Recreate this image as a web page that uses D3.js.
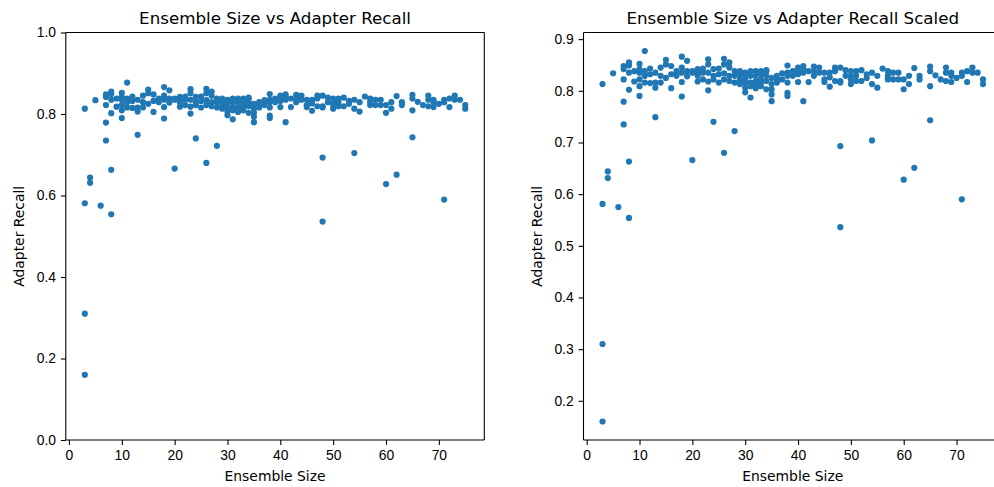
<!DOCTYPE html>
<html>
<head>
<meta charset="utf-8">
<script src="https://cdn.jsdelivr.net/npm/d3@7"></script>
<style>
  html, body { margin: 0; padding: 0; background: #fff; }
  svg { display: block; font-family: "DejaVu Sans", sans-serif; }
  .tick text { font-size: 13.9px; fill: #000; }
  .tick line { stroke: #000; stroke-width: 1.1px; }
  .domain { display: none; }
</style>
</head>
<body>
<svg id="chart" width="994" height="487"></svg>
<script>
// Ensemble sizes and the adapter recall measured for each run at that size
const ensembleSizes = [3, 4, 5, 6, 7, 8, 9, 10, 11, 12, 13, 14, 15, 16, 17, 18, 19, 20,
  21, 22, 23, 24, 25, 26, 27, 28, 29, 30, 31, 32, 33, 34, 35, 36, 37, 38, 39, 40,
  41, 42, 43, 44, 45, 46, 47, 48, 49, 50, 51, 52, 53, 54, 55, 56, 57, 58, 59, 60,
  61, 62, 63, 65, 66, 67, 68, 69, 70, 71, 72, 73, 74, 75];

const recallBySize = [
  [0.813, 0.581, 0.310, 0.160],
  [0.644, 0.631],
  [0.834],
  [0.575],
  [0.848, 0.842, 0.822, 0.779, 0.735],
  [0.855, 0.849, 0.835, 0.802, 0.663, 0.554],
  [0.818, 0.838],
  [0.852, 0.842, 0.835, 0.822, 0.809, 0.790],
  [0.877, 0.838, 0.829, 0.816],
  [0.843, 0.832, 0.815],
  [0.835, 0.816, 0.806, 0.749],
  [0.845, 0.829, 0.816],
  [0.860, 0.851, 0.825],
  [0.848, 0.832, 0.805],
  [0.829, 0.838],
  [0.866, 0.845, 0.835, 0.817, 0.789],
  [0.858, 0.838, 0.828],
  [0.838, 0.835, 0.666],
  [0.842, 0.829, 0.818, 0.835],
  [0.843, 0.835, 0.822],
  [0.861, 0.851, 0.835, 0.818, 0.801],
  [0.842, 0.822, 0.829, 0.740],
  [0.843, 0.816, 0.832],
  [0.862, 0.851, 0.834, 0.822, 0.680],
  [0.855, 0.845, 0.829, 0.819],
  [0.829, 0.816, 0.838, 0.722],
  [0.838, 0.822, 0.813, 0.832],
  [0.835, 0.822, 0.806, 0.797, 0.816, 0.829],
  [0.838, 0.816, 0.787, 0.829, 0.809],
  [0.829, 0.805, 0.838, 0.819, 0.813],
  [0.838, 0.822, 0.809, 0.832, 0.816],
  [0.838, 0.819, 0.803, 0.829, 0.840],
  [0.825, 0.803, 0.793, 0.780, 0.813],
  [0.822, 0.816, 0.829],
  [0.834, 0.822],
  [0.849, 0.835, 0.816, 0.796, 0.790, 0.829],
  [0.829, 0.838],
  [0.845, 0.838, 0.817, 0.832],
  [0.848, 0.835, 0.780, 0.842],
  [0.838, 0.817],
  [0.847, 0.829, 0.838],
  [0.845, 0.835],
  [0.835, 0.822, 0.817],
  [0.835, 0.808, 0.826],
  [0.845, 0.838, 0.819],
  [0.845, 0.819, 0.816, 0.693, 0.536],
  [0.840, 0.829],
  [0.838, 0.822, 0.813, 0.829],
  [0.838, 0.829, 0.819],
  [0.840, 0.819],
  [0.832, 0.825],
  [0.835, 0.813, 0.704],
  [0.829, 0.806],
  [0.843],
  [0.838, 0.822, 0.829],
  [0.835, 0.822],
  [0.835, 0.822],
  [0.822, 0.803, 0.628],
  [0.829, 0.813],
  [0.844, 0.651],
  [0.829, 0.822],
  [0.847, 0.838, 0.809, 0.743],
  [0.830],
  [0.822],
  [0.845, 0.835, 0.819],
  [0.835, 0.829, 0.817],
  [0.825],
  [0.835, 0.829, 0.590],
  [0.838, 0.817],
  [0.845, 0.835],
  [0.835],
  [0.822, 0.813]
];

const xTicks = [0, 10, 20, 30, 40, 50, 60, 70];
const yTicksFixed = [0.0, 0.2, 0.4, 0.6, 0.8, 1.0];
const yTicksScaled = [0.2, 0.3, 0.4, 0.5, 0.6, 0.7, 0.8, 0.9];

const points = ensembleSizes.flatMap((s, i) => recallBySize[i].map(r => ({ size: s, recall: r })));

const svg = d3.select("#chart");
const color = "#1f77b4";
const axTop = 32.5, axBottom = 440, axWidth = 418.5;
const tickLen = 4.9, tickPad = 4.9;

// matplotlib-style autoscale: data extent padded by 5% on each side
function padded(ext) {
  const r = ext[1] - ext[0];
  return [ext[0] - 0.05 * r, ext[1] + 0.05 * r];
}

function panel(left, title, yDomain, yTicks, showRightSpine) {
  const x = d3.scaleLinear().domain(padded(d3.extent(points, d => d.size))).range([left, left + axWidth]);
  const y = d3.scaleLinear().domain(yDomain).range([axBottom, axTop]);
  const g = svg.append("g");

  const clipId = "clip" + Math.round(left);
  svg.append("defs").append("clipPath").attr("id", clipId)
    .append("rect").attr("x", left).attr("y", axTop).attr("width", axWidth).attr("height", axBottom - axTop);

  g.append("g").attr("clip-path", `url(#${clipId})`)
    .selectAll("circle").data(points).join("circle")
    .attr("cx", d => x(d.size))
    .attr("cy", d => y(d.recall))
    .attr("r", 3.1)
    .attr("fill", color);

  // Axes with outward ticks
  const xa = g.append("g").attr("transform", `translate(0,${axBottom})`)
    .call(d3.axisBottom(x).tickValues(xTicks).tickFormat(d3.format("d"))
      .tickSizeInner(tickLen).tickSizeOuter(0).tickPadding(tickPad));
  const ya = g.append("g").attr("transform", `translate(${left},0)`)
    .call(d3.axisLeft(y).tickValues(yTicks).tickFormat(d3.format(".1f"))
      .tickSizeInner(tickLen).tickSizeOuter(0).tickPadding(tickPad));

  // Spines
  const sp = g.append("g").attr("stroke", "#000").attr("stroke-width", 1.1).attr("fill", "none");
  sp.append("line").attr("x1", left).attr("x2", left).attr("y1", axTop).attr("y2", axBottom);
  sp.append("line").attr("x1", left).attr("x2", left + axWidth).attr("y1", axBottom).attr("y2", axBottom);
  sp.append("line").attr("x1", left).attr("x2", left + axWidth).attr("y1", axTop).attr("y2", axTop);
  if (showRightSpine) {
    sp.append("line").attr("x1", left + axWidth).attr("x2", left + axWidth).attr("y1", axTop).attr("y2", axBottom);
  }

  g.append("text")
    .attr("x", left + axWidth / 2).attr("y", 24)
    .attr("text-anchor", "middle")
    .attr("font-size", "16.7px")
    .text(title);

  g.append("text")
    .attr("x", left + axWidth / 2).attr("y", 481)
    .attr("text-anchor", "middle")
    .attr("font-size", "13.9px")
    .text("Ensemble Size");

  const yLabelX = left - 42;
  g.append("text")
    .attr("transform", `translate(${yLabelX},${(axTop + axBottom) / 2}) rotate(-90)`)
    .attr("text-anchor", "middle")
    .attr("font-size", "13.9px")
    .text("Adapter Recall");
}

panel(65.8, "Ensemble Size vs Adapter Recall", [0, 1], yTicksFixed, true);
panel(583.5, "Ensemble Size vs Adapter Recall Scaled",
  padded(d3.extent(points, d => d.recall)), yTicksScaled, true);
</script>
</body>
</html>
